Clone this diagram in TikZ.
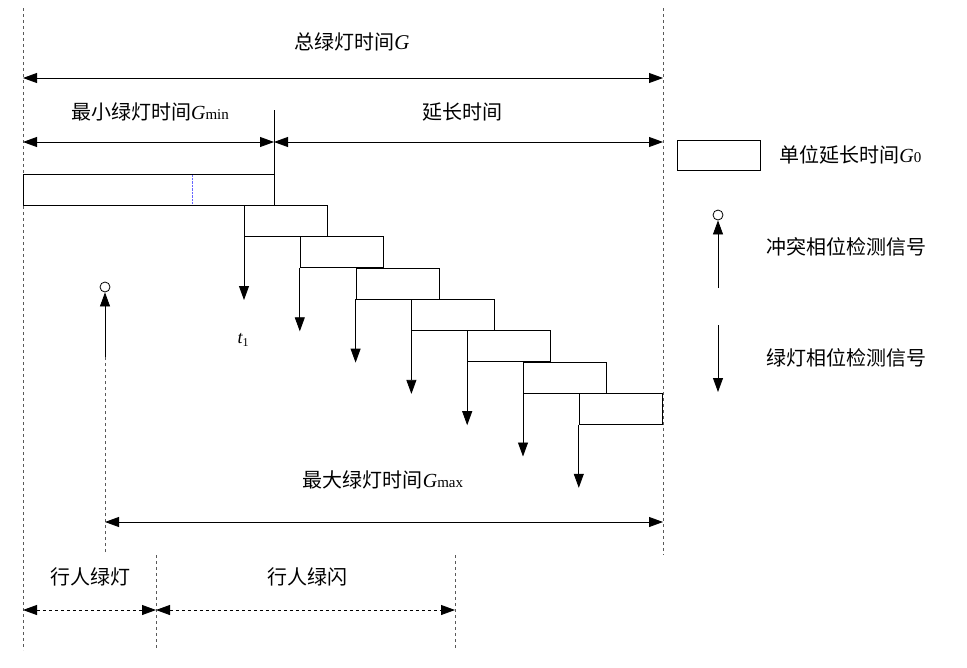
\documentclass[tikz,border=0pt]{standalone}
\usepackage{fontspec}
\setmainfont{Liberation Serif}
\newfontfamily\cjk{Noto Sans CJK SC}
\newcommand\Gvar[1]{{\rmfamily\itshape G}{\rmfamily\fontsize{15}{17}\selectfont #1}}
\usetikzlibrary{arrows.meta}
\tikzset{
  dim/.style={{Triangle[length=14pt,width=10pt]}-{Triangle[length=14pt,width=10pt]}},
  sig/.style={-{Triangle[length=14pt,width=10pt]}},
  cell/.style={draw,minimum width=83pt,minimum height=31pt,inner sep=0pt,anchor=north west},
  lbl/.style={font=\cjk\fontsize{20}{23}\selectfont,inner sep=1pt},
  guide/.style={dashed,gray!70!black,thin}
}
\begin{document}
\begin{tikzpicture}[x=1pt,y=-1pt,line width=0.8pt]
    \useasboundingbox (0,0) rectangle (967,667);
    % guide lines
    \draw[guide] (23,8) -- (23,650);
    \draw[guide] (663,8) -- (663,555);
    \draw[guide] (156,555) -- (156,650);
    \draw[guide] (455,555) -- (455,650);
    \draw (274,110) -- (274,174);
    % dimensions
    \node[lbl] (totl) at (352,42) {总绿灯时间{\rmfamily\itshape\fontsize{21}{23}\selectfont G}};
    \draw[dim] (23,78) -- (663,78);
    \node[lbl] (minl) at (150,112) {最小绿灯时间\Gvar{min}};
    \draw[dim] (23,142) -- (274,142);
    \node[lbl] (extl) at (462,112) {延长时间};
    \draw[dim] (274,142) -- (663,142);
    % minimum green box
    \node[cell,minimum width=251pt] (gmin) at (23,174) {};
    \draw[densely dotted,blue!60,thin] (192,175) -- (192,204);
    % extension units and green detections
    \foreach \i in {0,...,6} {
        \node[cell] (u\i) at ({244+55.8*\i},{205+31.3*\i}) {};
        \coordinate (d\i) at ({244+55.8*\i},{300+31.3*\i});
        \draw[sig] (u\i.south west) -- (d\i);
    }
    \node[font=\itshape\fontsize{18}{20}\selectfont] (t1) at (243,340) {t\raisebox{-3pt}{\fontsize{12}{12}\selectfont\upshape 1}};
    % conflict detection
    \node[draw,circle,inner sep=0pt,minimum size=10pt] (cdet) at (105,287) {};
    \coordinate (cmid) at (105,357);
    \draw[guide] (105,552) -- (cmid);
    \draw[sig] (cmid) -- (cdet);
    % maximum green
    \node[lbl] (maxl) at (383,480) {最大绿灯时间\Gvar{max}};
    \draw[dim] (105,522) -- (663,522);
    % pedestrian phases
    \node[lbl] (pgl) at (90,577) {行人绿灯};
    \node[lbl] (pfl) at (307,577) {行人绿闪};
    \draw[dim,dashed] (23,610) -- (156,610);
    \draw[dim,dashed] (156,610) -- (455,610);
    % legend
    \node[cell,minimum width=83pt,minimum height=30pt] (lbox) at (677,140) {};
    \node[lbl,anchor=west] (lboxt) at (778,155) {单位延长时间\Gvar{0}};
    \node[draw,circle,inner sep=0pt,minimum size=10pt] (lcirc) at (718,215) {};
    \coordinate (lup) at (718,288);
    \draw[sig] (lup) -- (lcirc);
    \node[lbl,anchor=west] (lupt) at (765,247) {冲突相位检测信号};
    \coordinate (ldn) at (718,325);
    \coordinate (ldne) at (718,392);
    \draw[sig] (ldn) -- (ldne);
    \node[lbl,anchor=west] (ldnt) at (765,358) {绿灯相位检测信号};
\end{tikzpicture}
\end{document}
